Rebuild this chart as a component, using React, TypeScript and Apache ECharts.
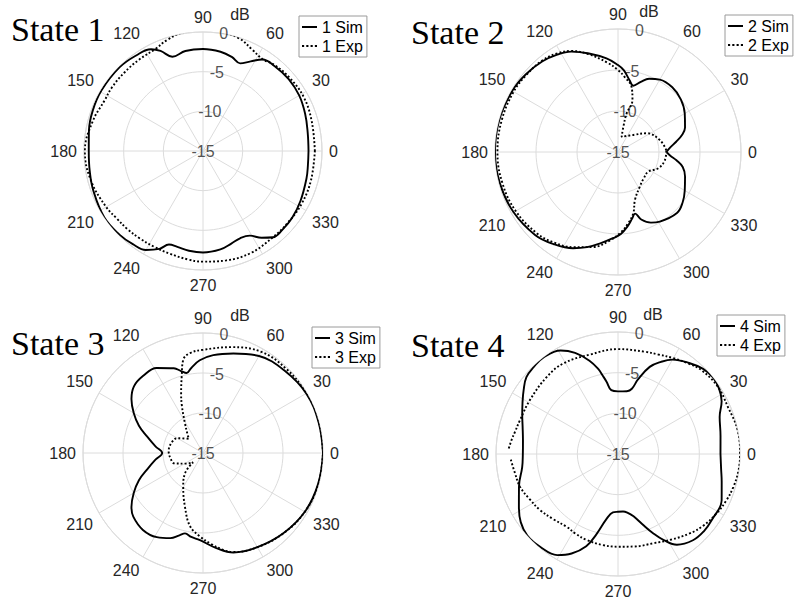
import React, { useEffect, useRef } from 'react';
import * as echarts from 'echarts';

// ---- data: [angle (deg), gain (dB)] ----
const sim1: [number, number][] = [
  [0, -1.7], [10, -1.6], [20, -1.3], [30, -1.0], [40, -0.9], [50, -1.0], [57, -1.25], [62, -2.2], [67, -3.0],
  [73, -2.6], [80, -2.3], [90, -2.15], [100, -2.2], [108, -2.5], [113, -1.3], [117, -0.6], [125, -0.3],
  [135, -0.1], [149, -0.1], [160, -0.2], [170, -0.4], [180, -0.6], [190, -0.5], [200, -0.3], [214, 0],
  [225, -0.1], [233, -0.3], [240, -0.6], [246, -1.5], [250, -2.45], [255, -2.5], [262, -2.3], [270, -2.2],
  [280, -2.4], [287, -2.8], [293, -3.05], [299, -2.8], [304, -1.8], [309, -1.0], [315, -0.9], [323, -0.95],
  [333, -1.2], [345, -1.5], [352, -1.65], [360, -1.7],
];
const exp1: [number, number][] = [
  [0, -0.9], [15, -0.8], [28, -0.6], [40, -0.7], [50, -0.9], [57, -1.2], [64, -0.8], [72, -0.1], [80, 0.15],
  [90, 0.25], [100, 0.15], [108, -0.3], [115, -0.8], [125, -0.95], [135, -1.0], [145, -1.0], [153, -1.05],
  [165, -0.6], [180, -0.1], [195, -0.4], [210, -0.9], [218, -1.2], [226, -1.3], [234, -1.4], [243, -1.45],
  [252, -1.4], [262, -1.2], [270, -1.05], [282, -0.9], [295, -0.8], [309, -1.0], [320, -1.0], [332, -0.9],
  [345, -0.9], [360, -0.9],
];
const sim2: [number, number][] = [
  [0, -9.1], [5, -8.6], [10, -7.8], [15, -6.9], [20, -6.3], [30, -5.6], [40, -5.0], [50, -4.7], [60, -4.8],
  [67, -5.3], [72, -6.0], [77, -6.7], [81, -6.1], [86, -5.0], [90, -4.4], [97, -3.5], [107, -2.4], [115, -1.5],
  [122, -1.0], [130, -0.6], [140, -0.3], [150, -0.1], [165, 0], [180, 0], [195, -0.1], [210, -0.3], [225, -0.7],
  [235, -1.3], [245, -2.05], [252, -2.8], [259, -3.65], [267, -4.5], [272, -5.0], [277, -5.8], [282, -6.7],
  [285.5, -7.2], [289, -6.3], [295, -5.5], [301, -5.1], [314, -4.65], [322, -5.0], [330, -5.6], [340, -6.3],
  [347, -6.9], [352, -7.8], [356, -8.6], [360, -9.1],
];
const exp2: [number, number][] = [
  [2, -9.1], [16, -9.7], [33, -10.8], [48, -12.2], [76.5, -13.1], [78, -11.8], [77.4, -10.2], [74.5, -8.4],
  [78.2, -6.9], [85, -5.8], [90, -5.0], [97, -4.0], [107, -2.5], [115, -1.4], [122, -0.85], [130, -0.5],
  [140, -0.4], [150, -0.3], [165, -0.3], [180, -0.3], [195, -0.4], [210, -0.6], [225, -1.0], [235, -1.5],
  [245, -2.2], [255, -3.0], [265, -4.2], [272, -5.2], [278, -6.2], [284, -7.3], [289.5, -8.8], [302, -10.0],
  [314, -10.5], [327, -10.6], [338, -9.7], [350, -9.2], [362, -9.1],
];
const sim3: [number, number][] = [
  [0, 0], [15, -0.05], [30, -0.1], [45, -0.5], [60, -1.0], [73, -2.0], [84, -2.7], [92, -3.4], [98, -4.3],
  [101.6, -4.8], [105, -4.4], [109, -3.8], [118.6, -2.9], [128, -2.8], [136, -3.0], [143, -3.8], [150, -5.0],
  [157, -6.3], [163.5, -7.7], [172, -9.0], [180, -9.9], [188, -9.0], [196.5, -7.7], [203, -6.3], [210, -5.0],
  [217, -3.8], [222.4, -3.2], [232, -2.8], [241.2, -3.0], [249, -3.6], [254, -4.3], [257.4, -4.7],
  [262, -4.4], [268, -4.1], [278, -3.0], [287, -2.0], [300, -1.4], [315, -0.8], [330, -0.3], [345, -0.1], [360, 0],
];
const exp3: [number, number][] = [
  [0, 0], [15, 0], [30, 0], [45, -0.2], [60, -0.4], [75, -1.3], [90, -2.1], [97.4, -2.4], [102, -3.1],
  [105.6, -5.1], [110, -7.0], [114, -8.5], [121, -10.6], [130, -12.0], [135, -12.5], [150, -11.3], [160, -10.9],
  [177, -10.7], [190, -10.9], [200, -11.2], [212, -12.5], [223, -13.3], [228.5, -11.6], [239.7, -10.1],
  [251.5, -7.9], [260, -5.7], [268, -4.55], [275, -3.6], [282, -2.6], [287, -2.05], [300, -1.4], [315, -0.8],
  [330, -0.3], [345, -0.05], [360, 0],
];
const sim4: [number, number][] = [
  [0, -2.4], [10, -2.2], [20, -1.7], [27, -0.7], [33, -0.2], [39, 0], [45, -0.2], [52, -0.8], [60, -1.6],
  [65, -2.5], [70, -3.6], [75, -5.5], [78, -6.8], [82, -7.2], [90, -7.3], [96, -7.1], [99, -6.0], [101, -5.2],
  [103, -4.3], [107, -3.0], [113, -1.5], [119, -0.45], [128, 0], [134, -0.1], [140, -0.3], [146, -1.0],
  [152, -1.7], [158, -2.3], [164, -2.8], [172, -3.2], [180, -3.3], [188, -3.1], [198, -2.2], [208, -1.2],
  [215, -0.4], [222, 0], [230, -0.1], [239, -0.5], [245, -1.5], [251, -3.0], [255, -4.8], [260, -6.9],
  [265, -7.8], [270, -7.9], [275, -7.9], [279, -7.7], [284, -7.1], [289, -5.9], [294, -4.3], [298, -3.0],
  [303, -1.7], [311, -0.95], [318, -0.8], [325, -0.9], [336, -1.05], [345, -1.8], [352, -2.2], [360, -2.4],
];
const exp4: [number, number][] = [
  [183, -1.8], [190, -2.1], [198.4, -2.3], [207, -2.8], [215.7, -3.2], [225, -3.7], [234.8, -4.05], [242, -3.9],
  [250, -3.75], [260, -3.65], [270, -3.6], [280, -3.45], [291.6, -3.2], [302, -2.6], [312, -1.85], [320, -1.3],
  [329, -0.85], [337, -0.5], [344, -0.25], [352, -0.05], [360, 0], [371.3, 0], [383, -0.3], [394, -0.2],
  [405.2, -0.45], [412, -0.9], [420.1, -1.4], [428, -1.8], [435.4, -2.0], [450, -2.1], [465.8, -2.3],
  [481, -2.0], [492.7, -2.1], [508.5, -2.3], [521, -2.25], [527.8, -2.05], [532.5, -1.8], [538, -1.5],
];

const simSets = [sim1, sim2, sim3, sim4];
const expSets = [exp1, exp2, exp3, exp4];
const titles = ['State 1', 'State 2', 'State 3', 'State 4'];
const legendNames = [['1 Sim', '1 Exp'], ['2 Sim', '2 Exp'], ['3 Sim', '3 Exp'], ['4 Sim', '4 Exp']];
const radialTicks = [-15, -10, -5, 0];
const radialLabelAngle = 80;

// ---- layout ----
const centers = [[203, 151], [618, 152], [203, 453], [618, 454]];
const radii = [119, 123, 120, 122];
const legendPos = [[299, 16], [725, 15], [312, 327], [717, 315]];
const titlePos = [[11, 12], [411, 15], [11, 326], [411, 328]];
const dbOffset = [37, 31, 37, 35];

const GRID = '#dcdcdc';
const TXT = '#262626';
const SANS = '"Liberation Sans", Arial, Helvetica, sans-serif';
const SERIF = '"Liberation Serif", "Times New Roman", serif';
const ICON_SOLID = 'path://M0,0H15V2H0Z';
const ICON_DOTTED = 'path://M0,0h2v2h-2z M4,0h2v2h-2z M8,0h2v2h-2z M12,0h2v2h-2z';

function buildOption() {
  const polar = centers.map((c, i) => ({ center: c, radius: radii[i] }));
  const angleAxis = centers.map((_, i) => ({
    polarIndex: i,
    type: 'value',
    min: 0,
    max: 360,
    interval: 30,
    startAngle: 0,
    clockwise: false,
    axisLine: { show: true, lineStyle: { color: GRID, width: 1 } },
    axisTick: { show: false },
    axisLabel: {
      show: true,
      margin: 7,
      fontSize: 16,
      color: TXT,
      fontFamily: SANS,
      formatter: (v: number) => (v >= 360 ? '' : String(v)),
    },
    splitLine: { show: true, lineStyle: { color: GRID, width: 1 } },
  }));
  const radiusAxis = centers.map((_, i) => ({
    polarIndex: i,
    type: 'value',
    min: -15,
    max: 0,
    interval: 5,
    axisLine: { show: false },
    axisTick: { show: false },
    axisLabel: { show: false },
    splitLine: { show: true, lineStyle: { color: GRID, width: 1 } },
  }));
  const series: any[] = [];
  for (let i = 0; i < 4; i++) {
    series.push({
      type: 'scatter',
      coordinateSystem: 'polar',
      polarIndex: i,
      silent: true,
      symbolSize: 1,
      itemStyle: { color: 'rgba(0,0,0,0)' },
      data: radialTicks.map((t) => [t, radialLabelAngle]),
      label: {
        show: true,
        position: 'inside',
        fontSize: 16,
        color: TXT,
        fontFamily: SANS,
        formatter: (p: any) => String(p.value[0]),
      },
      z: 1,
    });
    series.push({
      name: legendNames[i][0],
      type: 'line',
      coordinateSystem: 'polar',
      polarIndex: i,
      data: simSets[i].map(([a, v]) => [v, a]),
      showSymbol: false,
      symbol: 'none',
      smooth: 0.4,
      clip: false,
      lineStyle: { color: '#000', width: 1.9, type: 'solid' },
      itemStyle: { color: '#000' },
      z: 3,
    });
    series.push({
      name: legendNames[i][1],
      type: 'line',
      coordinateSystem: 'polar',
      polarIndex: i,
      data: expSets[i].map(([a, v]) => [v, a]),
      showSymbol: false,
      symbol: 'none',
      smooth: 0.4,
      clip: false,
      lineStyle: { color: '#000', width: 1.9, type: [1.9, 2.1] },
      itemStyle: { color: '#000' },
      z: 3,
    });
  }
  const legend = legendNames.map((names, i) => ({
    data: [
      { name: names[0], icon: ICON_SOLID },
      { name: names[1], icon: ICON_DOTTED },
    ],
    left: legendPos[i][0],
    top: legendPos[i][1],
    orient: 'vertical',
    borderColor: '#9a9a9a',
    borderWidth: 1,
    borderRadius: 0,
    backgroundColor: '#fff',
    padding: [3, 4, 3, 3],
    itemGap: 3,
    itemWidth: 15,
    itemHeight: 14,
    selectedMode: false,
    itemStyle: { color: '#000', borderWidth: 0 },
    textStyle: { fontSize: 16, color: '#000', fontFamily: SANS },
  }));
  const graphic: any[] = [];
  for (let i = 0; i < 4; i++) {
    graphic.push({
      type: 'text',
      left: titlePos[i][0],
      top: titlePos[i][1],
      style: { text: titles[i], font: `34px ${SERIF}`, fill: '#000' },
    });
    graphic.push({
      type: 'text',
      x: centers[i][0] + dbOffset[i],
      y: centers[i][1] - radii[i] - 18,
      style: { text: 'dB', font: `16px ${SANS}`, fill: TXT, align: 'center', verticalAlign: 'middle' },
    });
  }
  return {
    animation: false,
    backgroundColor: '#fff',
    polar,
    angleAxis,
    radiusAxis,
    legend,
    series,
    graphic,
  };
}

export default function App() {
  const ref = useRef<HTMLDivElement>(null);
  useEffect(() => {
    if (!ref.current) return;
    const chart = echarts.init(ref.current, null, { renderer: 'svg' });
    chart.setOption(buildOption() as any);
    return () => chart.dispose();
  }, []);
  return (
    <div
      ref={ref}
      style={{ position: 'fixed', left: 0, top: 0, width: 794, height: 603, background: '#fff' }}
    />
  );
}
